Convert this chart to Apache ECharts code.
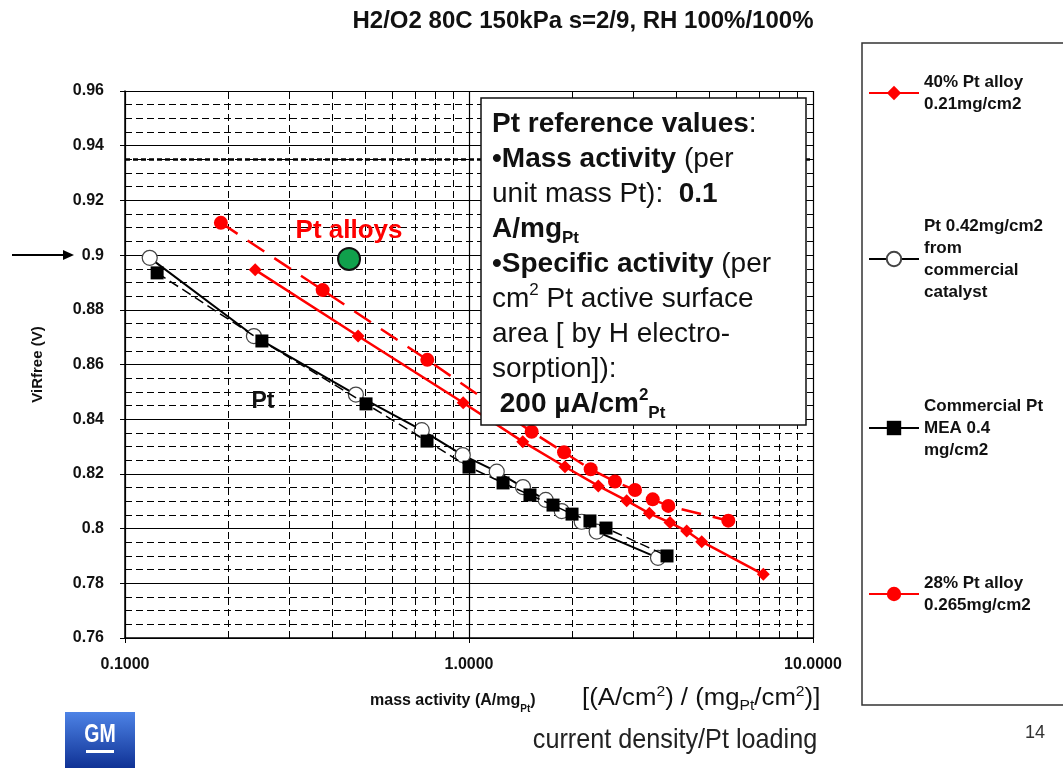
<!DOCTYPE html>
<html><head><meta charset="utf-8">
<script src="https://cdn.jsdelivr.net/npm/echarts@6/dist/echarts.min.js"></script>
<style>html,body{margin:0;padding:0;background:#fff}#c{width:1063px;height:768px}</style>
</head><body><div id="c"></div>
<script>
// ---------- data ----------
const chartTitle = 'H2/O2 80C 150kPa s=2/9, RH 100%/100%';
const seriesNames = [
  '40% Pt alloy\n0.21mg/cm2',
  'Pt 0.42mg/cm2\nfrom\ncommercial\ncatalyst',
  'Commercial Pt\nMEA 0.4\nmg/cm2',
  '28% Pt alloy\n0.265mg/cm2'
];
const alloy40X = [0.239, 0.476, 0.962, 1.433, 1.901, 2.376, 2.873, 3.344, 3.84, 4.293, 4.748, 7.17];
const alloy40Y = [0.8946, 0.8704, 0.846, 0.8318, 0.8226, 0.8156, 0.8102, 0.8056, 0.8022, 0.7991, 0.7952, 0.7833];
const ptCatX = [0.118, 0.237, 0.469, 0.729, 0.959, 1.204, 1.435, 1.671, 1.86, 2.126, 2.35, 3.543];
const ptCatY = [0.899, 0.8704, 0.849, 0.836, 0.8269, 0.8208, 0.8152, 0.8105, 0.8064, 0.8025, 0.7989, 0.7893];
const meaX = [0.124, 0.250, 0.502, 0.755, 1.0, 1.256, 1.504, 1.755, 1.993, 2.247, 2.502, 3.764];
const meaY = [0.8935, 0.8686, 0.8456, 0.832, 0.8225, 0.8167, 0.8123, 0.8086, 0.8053, 0.8028, 0.8002, 0.790];
const alloy28X = [0.19, 0.3755, 0.7565, 1.521, 1.889, 2.258, 2.657, 3.038, 3.42, 3.797, 5.674];
const alloy28Y = [0.9118, 0.8872, 0.8617, 0.8354, 0.8279, 0.8217, 0.8172, 0.8141, 0.8107, 0.8083, 0.8029];
const targetX = [0.448];
const targetY = [0.8986];
const xMinorLines = [0.2, 0.3, 0.4, 0.5, 0.6, 0.7, 0.8, 0.9, 2, 3, 4, 5, 6, 7, 8, 9];
const yRefLines = [0.935];
const xMin = 0.1, xMax = 10;
const yMin = 0.76, yMax = 0.96, yStep = 0.02;
const xAxisTitleA = 'mass activity (A/mg';
const yAxisTitle = 'ViRfree (V)';
const boxLines = [
  '{b|Pt reference values}{n|:}',
  '{b|•Mass activity} {n|(per}',
  '{n|unit mass Pt):  }{b|0.1}',
  '{b|A/mg}{bsub|Pt}',
  '{b|•Specific activity} {n|(per}',
  '{n|cm}{sup|2}{n| Pt active surface}',
  '{n|area [ by H electro-}',
  '{n|sorption]):}',
  '{b| 200 µA/cm}{bsup|2}{bsub|Pt}'
];

// ---------- layout ----------
const FONT = "'Liberation Sans', Arial, sans-serif";
const zip = (xs, ys) => xs.map((x, i) => [x, ys[i]]);
const LH = 22;
const legendIconY = [93, 259, 428, 594];
const RED = '#ff0000';

const legends = seriesNames.map((n, i) => {
  const k = n.split('\n').length;
  return {
    orient: 'vertical', left: 868, top: legendIconY[i] - (2 * k - 1) * LH / 2, padding: 0,
    itemWidth: 50, itemHeight: 18, itemGap: 0, selectedMode: false,
    data: [{ name: n, lineStyle: { type: 'solid' } }],
    textStyle: { fontFamily: FONT, fontWeight: 'bold', fontSize: 17, lineHeight: LH, color: '#111',
      padding: [(k - 1) * LH, 0, 0, 0] }
  };
});

const chart = echarts.init(document.getElementById('c'), null, { renderer: 'canvas' });
chart.setOption({
  animation: false,
  backgroundColor: '#fff',
  legend: legends,
  grid: { left: 125, right: 250, top: 91, bottom: 130, containLabel: false },
  xAxis: {
    type: 'log', logBase: 10, min: xMin, max: xMax,
    axisLine: { show: true, lineStyle: { color: '#000', width: 1.5 } },
    axisTick: { show: true, length: 5, lineStyle: { color: '#000' } },
    axisLabel: { margin: 19, fontFamily: FONT, fontWeight: 'bold', fontSize: 16, color: '#111',
      formatter: v => Number(v).toFixed(4) },
    splitLine: { show: true, lineStyle: { color: '#000', width: 1.2 } }
  },
  yAxis: {
    type: 'value', min: yMin, max: yMax, interval: yStep,
    name: yAxisTitle, nameLocation: 'middle', nameGap: 80,
    nameTextStyle: { fontFamily: FONT, fontWeight: 'bold', fontSize: 15, color: '#111' },
    axisLine: { show: true, lineStyle: { color: '#000', width: 1.5 } },
    axisTick: { show: true, length: 5, lineStyle: { color: '#000' } },
    axisLabel: { margin: 21, fontFamily: FONT, fontWeight: 'bold', fontSize: 16, color: '#111',
      formatter: v => String(+Number(v).toFixed(2)) },
    splitLine: { show: true, lineStyle: { color: '#000', width: 1.2 } },
    minorTick: { show: false, splitNumber: 4 },
    minorSplitLine: { show: true, lineStyle: { color: '#000', width: 1, type: [7, 4] } }
  },
  series: [
    {
      name: '_grid', type: 'line', data: [[xMin, yMin]], symbol: 'none', silent: true, z: 1,
      lineStyle: { opacity: 0 },
      markLine: {
        silent: true, symbol: ['none', 'none'], label: { show: false }, animation: false, precision: 4,
        lineStyle: { color: '#000', type: [7, 4], width: 1 },
        data: [
          ...xMinorLines.map(v => ({ xAxis: v })),
          ...yRefLines.map(v => ({ yAxis: v, lineStyle: { color: '#000', type: [5, 3], width: 2.5 } }))
        ]
      }
    },
    {
      name: seriesNames[1], type: 'line', data: zip(ptCatX, ptCatY), z: 3,
      symbol: 'circle', symbolSize: 15, showAllSymbol: true,
      lineStyle: { color: '#000', width: 2 },
      itemStyle: { color: '#fff', borderColor: '#444', borderWidth: 1.2 }
    },
    {
      name: seriesNames[2], type: 'line', data: zip(meaX, meaY), z: 4,
      symbol: 'rect', symbolSize: 13, showAllSymbol: true,
      lineStyle: { color: '#000', width: 1.5, type: [10, 5] },
      itemStyle: { color: '#000' }
    },
    {
      name: seriesNames[0], type: 'line', data: zip(alloy40X, alloy40Y), z: 5,
      symbol: 'diamond', symbolSize: 13, showAllSymbol: true,
      lineStyle: { color: RED, width: 2.5 },
      itemStyle: { color: RED }
    },
    {
      name: seriesNames[3], type: 'line', data: zip(alloy28X, alloy28Y), z: 5,
      symbol: 'circle', symbolSize: 14, showAllSymbol: true,
      lineStyle: { color: RED, width: 2.5, type: [20, 12] },
      itemStyle: { color: RED }
    },
    {
      name: 'target', type: 'scatter', data: zip(targetX, targetY), z: 6,
      symbolSize: 22, itemStyle: { color: '#10a04c', borderColor: '#111', borderWidth: 2, opacity: 1 }
    }
  ],
  graphic: [
    { type: 'text', x: 583, y: 21, z: 50,
      style: { text: chartTitle, fontFamily: FONT, fontWeight: 'bold', fontSize: 24, fill: '#111',
        align: 'center', verticalAlign: 'middle' } },
    // legend frame
    { type: 'rect', z: 0, shape: { x: 862, y: 43, width: 215, height: 662 },
      style: { fill: 'none', stroke: '#333', lineWidth: 1.5 } },
    // reference values box
    { type: 'rect', z: 100, shape: { x: 481, y: 98, width: 325, height: 327 },
      style: { fill: '#fff', stroke: '#111', lineWidth: 1.5 } },
    { type: 'text', z: 101, x: 492, y: 107,
      style: {
        text: boxLines.join('\n'), fontFamily: FONT, fontSize: 28, lineHeight: 35, fill: '#111',
        align: 'left', verticalAlign: 'top',
        rich: {
          b: { fontFamily: FONT, fontWeight: 'bold', fontSize: 28, lineHeight: 35, fill: '#111' },
          n: { fontFamily: FONT, fontSize: 28, lineHeight: 35, fill: '#111' },
          bsub: { fontFamily: FONT, fontWeight: 'bold', fontSize: 17, lineHeight: 18, verticalAlign: 'bottom', fill: '#111' },
          bsup: { fontFamily: FONT, fontWeight: 'bold', fontSize: 17, lineHeight: 22, verticalAlign: 'top', fill: '#111' },
          sup: { fontFamily: FONT, fontSize: 17, lineHeight: 22, verticalAlign: 'top', fill: '#111' }
        }
      } },
    // annotations
    { type: 'text', z: 60, x: 349, y: 231,
      style: { text: 'Pt alloys', fontFamily: FONT, fontWeight: 'bold', fontSize: 26, fill: RED,
        align: 'center', verticalAlign: 'middle' } },
    { type: 'text', z: 60, x: 263, y: 402,
      style: { text: 'Pt', fontFamily: FONT, fontWeight: 'bold', fontSize: 23, fill: '#111', align: 'center', verticalAlign: 'middle' } },
    // arrow pointing to 0.9
    { type: 'line', z: 60, shape: { x1: 12, y1: 255, x2: 66, y2: 255 }, style: { stroke: '#000', lineWidth: 2 } },
    { type: 'polygon', z: 60, shape: { points: [[63, 250], [74, 255], [63, 260]] }, style: { fill: '#000' } },
    // x axis title
    { type: 'text', z: 60, x: 370, y: 701,
      style: {
        text: '{mb|' + xAxisTitleA + '}{ms|Pt}{mb|)}',
        align: 'left', verticalAlign: 'middle',
        rich: {
          mb: { fontFamily: FONT, fontWeight: 'bold', fontSize: 16, lineHeight: 26, fill: '#111' },
          ms: { fontFamily: FONT, fontWeight: 'bold', fontSize: 10, lineHeight: 16, verticalAlign: 'bottom', fill: '#111' }
        }
      } },
    { type: 'text', z: 60, x: 582, y: 699, scaleX: 1.12,
      style: {
        text: '{r|[(A/cm}{rs|2}{r|) / (mg}{rb|Pt}{r|/cm}{rs|2}{r|)]}',
        align: 'left', verticalAlign: 'middle',
        rich: {
          r: { fontFamily: FONT, fontSize: 23, lineHeight: 28, fill: '#111' },
          rs: { fontFamily: FONT, fontSize: 14, lineHeight: 20, verticalAlign: 'top', fill: '#111' },
          rb: { fontFamily: FONT, fontSize: 14, lineHeight: 16, verticalAlign: 'bottom', fill: '#111' }
        }
      } },
    { type: 'text', z: 60, x: 675, y: 740, scaleX: 0.9,
      style: { text: 'current density/Pt loading', fontFamily: FONT, fontSize: 28, fill: '#222',
        align: 'center', verticalAlign: 'middle' } },
    { type: 'text', z: 60, x: 1035, y: 733,
      style: { text: '14', fontFamily: FONT, fontSize: 18, fill: '#333', align: 'center', verticalAlign: 'middle' } },
    // GM logo
    { type: 'rect', z: 60, shape: { x: 65, y: 712, width: 70, height: 60 },
      style: { fill: { type: 'linear', x: 0, y: 0, x2: 0, y2: 1,
        colorStops: [{ offset: 0, color: '#4d83e6' }, { offset: 1, color: '#0b2c8f' }] } } },
    { type: 'text', z: 61, x: 100, y: 735, scaleX: 0.75,
      style: { text: 'GM', fontFamily: FONT, fontWeight: 'bold', fontSize: 26, fill: '#fff',
        align: 'center', verticalAlign: 'middle' } },
    { type: 'rect', z: 61, shape: { x: 86, y: 750, width: 28, height: 3 }, style: { fill: '#fff' } }
  ]
});
</script></body></html>
